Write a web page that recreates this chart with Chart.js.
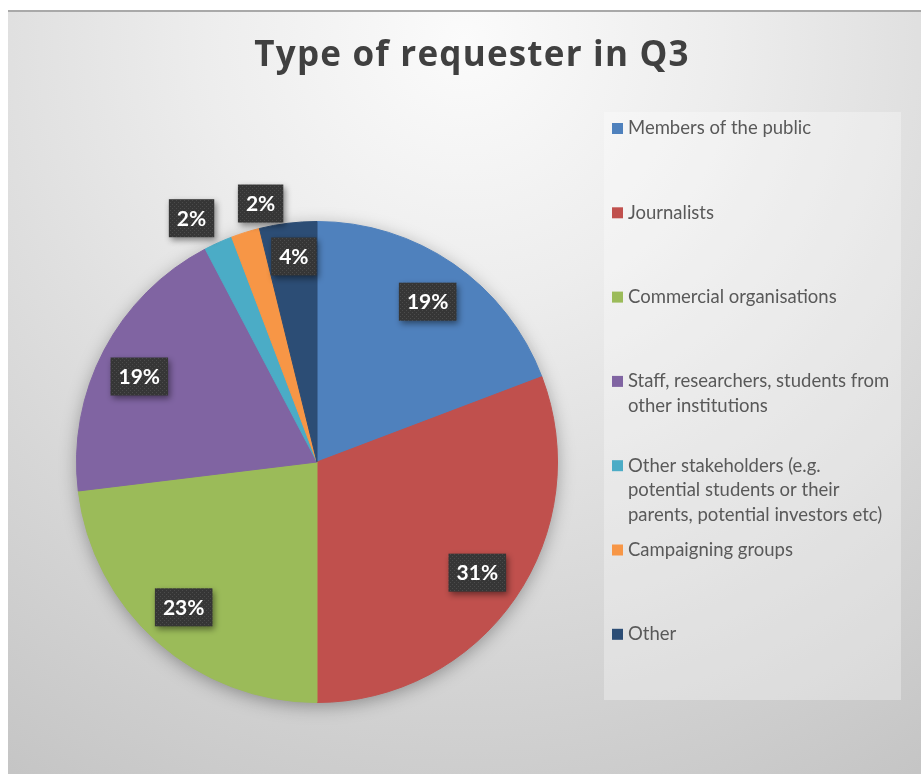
<!DOCTYPE html>
<html>
<head>
<meta charset="utf-8">
<title>Type of requester in Q3</title>
<script src="https://cdn.jsdelivr.net/npm/chart.js@4.4.1/dist/chart.umd.min.js"></script>
<style>
    html, body { margin: 0; padding: 0; background: #ffffff; }
    #wrap { position: relative; width: 921px; height: 774px; }
</style>
</head>
<body>
<div id="wrap"><canvas id="requesterChart"></canvas></div>
<script>
// === ДАННЫЕ ===
const chartTitle = 'Type of requester in Q3';
const categories = [
    'Members of the public',
    'Journalists',
    'Commercial organisations',
    ['Staff, researchers, students from', 'other institutions'],
    ['Other stakeholders (e.g.', 'potential students or their', 'parents, potential investors etc)'],
    'Campaigning groups',
    'Other'
];
const requestCounts = [10, 16, 12, 10, 1, 1, 2];
const sliceColors = ['#4f81bd', '#c0504d', '#9bbb59', '#8064a2', '#4bacc6', '#f79646', '#2c4d75'];

const FONT = 'Lato, "Open Sans", sans-serif';

// куда ставить подписи: доля радиуса и сдвиг угла в градусах
const labelPlacement = [
    { r: 0.81, da: 0 },
    { r: 0.81, da: 0 },
    { r: 0.82, da: 1 },
    { r: 0.82, da: -2 },
    { r: 1.14, da: -3 },
    { r: 1.10, da: 5 },
    { r: 0.86, da: 0.5 }
];

// узор для тёмных плашек с процентами
const patCanvas = document.createElement('canvas');
patCanvas.width = 4;
patCanvas.height = 4;
const pctx = patCanvas.getContext('2d');
pctx.fillStyle = '#363636';
pctx.fillRect(0, 0, 4, 4);
pctx.fillStyle = '#4b4b4b';
pctx.fillRect(0, 0, 1, 1);
pctx.fillRect(2, 2, 1, 1);

// === ФОН, ЗАГОЛОВОК, ЛЕГЕНДА ===
const officeFrame = {
    id: 'officeFrame',
    beforeDraw(chart) {
        const { ctx, width, height } = chart;
        ctx.save();
        ctx.fillStyle = '#ffffff';
        ctx.fillRect(0, 0, width, height);

        const g = ctx.createRadialGradient(464, 40, 0, 464, 40, 860);
        g.addColorStop(0, '#fbfbfb');
        g.addColorStop(0.3, '#ededed');
        g.addColorStop(0.65, '#d9d9d9');
        g.addColorStop(1, '#c5c5c5');
        ctx.fillStyle = g;
        ctx.fillRect(8, 11, width - 8, height - 11);

        ctx.strokeStyle = '#a9a9a9';
        ctx.lineWidth = 2;
        ctx.beginPath();
        ctx.moveTo(8, 11);
        ctx.lineTo(width, 11);
        ctx.stroke();

        // заголовок
        ctx.fillStyle = '#404040';
        ctx.font = 'bold 35px "Open Sans", Lato, sans-serif';
        ctx.letterSpacing = '1.2px';
        ctx.textAlign = 'center';
        ctx.textBaseline = 'alphabetic';
        ctx.fillText(chartTitle, 472, 66);
        ctx.letterSpacing = '0px';

        // легенда в светлой рамке
        ctx.fillStyle = 'rgba(255, 255, 255, 0.3)';
        ctx.fillRect(604, 112, 297, 588);
        ctx.font = '18.5px ' + FONT;
        ctx.textAlign = 'left';
        ctx.textBaseline = 'middle';
        chart.data.labels.forEach((label, i) => {
            const y0 = 128.5 + 84.3 * i;
            ctx.fillStyle = chart.data.datasets[0].backgroundColor[i];
            ctx.fillRect(612, y0 - 5.5, 11, 11);
            ctx.fillStyle = '#595959';
            const lines = Array.isArray(label) ? label : [label];
            lines.forEach((line, k) => ctx.fillText(line, 628, y0 + 24.5 * k));
        });
        ctx.restore();
    },
    beforeDatasetsDraw(chart) {
        // мягкая тень под кругом
        const arc = chart.getDatasetMeta(0).data[0];
        if (!arc) return;
        const { ctx } = chart;
        ctx.save();
        ctx.shadowColor = 'rgba(0, 0, 0, 0.35)';
        ctx.shadowBlur = 18;
        ctx.shadowOffsetY = 4;
        ctx.fillStyle = '#888888';
        ctx.beginPath();
        ctx.arc(arc.x, arc.y, arc.outerRadius - 1, 0, Math.PI * 2);
        ctx.fill();
        ctx.restore();
    },
    afterDatasetsDraw(chart) {
        const { ctx } = chart;
        const values = chart.data.datasets[0].data;
        const total = values.reduce((a, b) => a + b, 0);
        const pattern = ctx.createPattern(patCanvas, 'repeat');
        ctx.save();
        ctx.font = 'bold 21px ' + FONT;
        ctx.textAlign = 'center';
        ctx.textBaseline = 'middle';
        chart.getDatasetMeta(0).data.forEach((arc, i) => {
            const p = arc.getProps(['x', 'y', 'startAngle', 'endAngle', 'outerRadius'], true);
            const place = labelPlacement[i];
            const mid = (p.startAngle + p.endAngle) / 2 + place.da * Math.PI / 180;
            const px = p.x + Math.cos(mid) * p.outerRadius * place.r;
            const py = p.y + Math.sin(mid) * p.outerRadius * place.r;
            const text = Math.round(values[i] / total * 100) + '%';
            const w = ctx.measureText(text).width + 16;
            const h = 38;

            ctx.save();
            ctx.shadowColor = 'rgba(0, 0, 0, 0.45)';
            ctx.shadowBlur = 6;
            ctx.shadowOffsetX = 2;
            ctx.shadowOffsetY = 3;
            ctx.fillStyle = pattern;
            ctx.fillRect(px - w / 2, py - h / 2, w, h);
            ctx.restore();

            ctx.fillStyle = '#ffffff';
            ctx.fillText(text, px, py + 1);
        });
        ctx.restore();
    }
};

// === КРУГОВАЯ ДИАГРАММА ===
const ctx = document.getElementById('requesterChart');

// @ts-ignore
new Chart(ctx, {
    type: 'pie',
    data: {
        labels: categories,
        datasets: [{
            data: requestCounts,
            backgroundColor: sliceColors,
            borderColor: sliceColors,
            borderWidth: 1
        }]
    },
    options: {
        responsive: true,
        maintainAspectRatio: false,
        animation: false,
        layout: { padding: { left: 76, top: 221, right: 363, bottom: 71 } },
        plugins: {
            legend: { display: false },
            tooltip: { enabled: false }
        }
    },
    plugins: [officeFrame]
});
</script>
</body>
</html>
